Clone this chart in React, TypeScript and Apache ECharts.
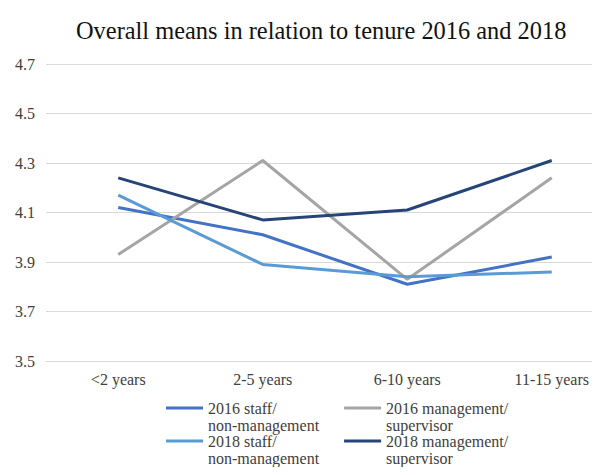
import React, { useEffect, useRef } from "react";
import * as echarts from "echarts";

const categories = ["<2 years", "2-5 years", "6-10 years", "11-15 years"];
const staff2016 = [4.12, 4.01, 3.81, 3.92];
const mgmt2016 = [3.93, 4.31, 3.83, 4.24];
const staff2018 = [4.17, 3.89, 3.84, 3.86];
const mgmt2018 = [4.24, 4.07, 4.11, 4.31];
const seriesNames = [
  "2016 staff/\nnon-management",
  "2016 management/\nsupervisor",
  "2018 staff/\nnon-management",
  "2018 management/\nsupervisor",
];
const colors = ["#4472C4", "#A5A5A5", "#5B9BD5", "#264478"];

const SERIF = "Liberation Serif";

export default function App() {
  const ref = useRef<HTMLDivElement>(null);
  useEffect(() => {
    if (!ref.current) return;
    const chart = echarts.init(ref.current, undefined, { renderer: "svg" });
    const values = [staff2016, mgmt2016, staff2018, mgmt2018];
    const legendBase = {
      left: 161,
      itemWidth: 37,
      itemHeight: 3,
      itemGap: 25,
      icon: "rect",
      formatter: (name: string) => "\n" + name,
      textStyle: {
        fontFamily: SERIF,
        fontSize: 16,
        color: "#404040",
        lineHeight: 17,
      },
    };
    chart.setOption({
      animation: false,
      textStyle: { fontFamily: SERIF },
      title: {
        text: "Overall means in relation to tenure 2016 and 2018",
        left: 71,
        top: 13,
        textStyle: { fontFamily: SERIF, fontSize: 24.4, fontWeight: "normal", color: "#111" },
      },
      legend: [
        { ...legendBase, top: 377.5, data: [seriesNames[0], seriesNames[1]] },
        { ...legendBase, top: 410.5, data: [seriesNames[2], seriesNames[3]] },
      ],
      grid: { left: 46, right: 6, top: 64, bottom: 114 },
      xAxis: {
        type: "category",
        data: categories,
        boundaryGap: true,
        axisLine: { lineStyle: { color: "#D9D9D9" } },
        axisTick: { show: false },
        axisLabel: { fontFamily: SERIF, fontSize: 16, color: "#404040", margin: 10 },
      },
      yAxis: {
        type: "value",
        min: 3.5,
        max: 4.7,
        interval: 0.2,
        axisLine: { show: false },
        axisTick: { show: false },
        axisLabel: {
          fontFamily: SERIF,
          fontSize: 16,
          color: "#404040",
          margin: 11,
          formatter: (v: number) => v.toFixed(1),
        },
        splitLine: { lineStyle: { color: "#D9D9D9", width: 1 } },
      },
      series: values.map((d, i) => ({
        name: seriesNames[i],
        type: "line",
        data: d,
        symbol: "none",
        color: colors[i],
        lineStyle: { color: colors[i], width: 3 },
      })),
    });
    return () => chart.dispose();
  }, []);
  return (
    <div style={{ width: 600, height: 475, margin: -8, overflow: "hidden", position: "relative" }}>
      <div ref={ref} style={{ width: 630, height: 475 }} />
    </div>
  );
}
